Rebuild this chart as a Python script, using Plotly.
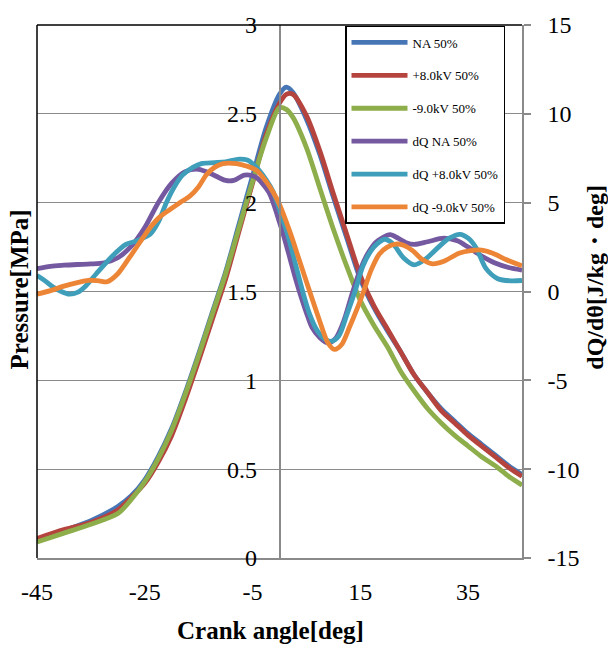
import plotly.graph_objects as go

# ---- crank angle grid for the pressure traces [deg] ----
angle_p = [-45, -40, -35, -30, -27.5, -25, -22.5, -20, -17.5, -15, -12.5, -10, -7.5, -5,
           -2.5, 0, 1.25, 2.5, 5, 7.5, 10, 12.5, 15, 17.5, 20, 22.5, 25, 27.5, 30, 32.5,
           35, 37.5, 40, 42.5, 45]

# ---- in-cylinder pressure [MPa] ----
p_na = [0.10, 0.155, 0.21, 0.29, 0.35, 0.44, 0.57, 0.73, 0.93, 1.15, 1.38, 1.61, 1.88, 2.15,
        2.42, 2.61, 2.65, 2.62, 2.47, 2.27, 2.03, 1.80, 1.57, 1.41, 1.28, 1.16, 1.03, 0.93,
        0.84, 0.77, 0.70, 0.64, 0.58, 0.52, 0.47]
p_pos8 = [0.11, 0.16, 0.20, 0.27, 0.34, 0.42, 0.54, 0.69, 0.89, 1.11, 1.34, 1.57, 1.84, 2.11,
          2.38, 2.56, 2.61, 2.61, 2.49, 2.29, 2.05, 1.82, 1.59, 1.42, 1.29, 1.16, 1.03, 0.93,
          0.83, 0.76, 0.69, 0.63, 0.57, 0.51, 0.46]
p_neg9 = [0.09, 0.14, 0.19, 0.25, 0.33, 0.43, 0.56, 0.72, 0.92, 1.14, 1.37, 1.60, 1.86, 2.12,
          2.36, 2.535, 2.525, 2.48, 2.31, 2.08, 1.85, 1.64, 1.45, 1.31, 1.19, 1.05, 0.94, 0.84,
          0.76, 0.69, 0.63, 0.57, 0.52, 0.46, 0.41]

# ---- heat release rate dQ/dtheta [J/kg deg] ----
angle_dq_na = [-45, -42.5, -40, -37.5, -35, -32.5, -30, -27.5, -25, -22.5, -20, -17.5, -15,
               -12.5, -10, -8.5, -6.5, -4.5, -2, 0, 1, 2, 3, 4, 5, 6, 7.5, 9, 10.5, 12, 13.5,
               15, 16.5, 18, 20.5, 22, 23.5, 25, 27.5, 30.5, 33, 35, 37.5, 40, 42.5, 45]
dq_na = [1.28, 1.42, 1.48, 1.52, 1.55, 1.62, 1.9, 2.55, 3.6, 5.0, 6.1, 6.75, 6.88,
         6.6, 6.25, 6.25, 6.55, 6.45, 5.6, 3.9, 2.9, 1.8, 0.7, -0.3, -1.2, -2.0, -2.6, -2.9,
         -2.6, -1.6, -0.1, 1.25, 2.2, 2.8, 3.2, 3.0, 2.75, 2.65, 2.8, 3.0, 2.85, 2.5, 2.0,
         1.6, 1.35, 1.2]

angle_dq_pos8 = [-45, -43.5, -42, -40.5, -39, -37.5, -36, -34, -31, -28.5, -26.5, -24, -22.5,
                 -21, -19.5, -18, -16, -14.5, -12, -10, -7.5, -6, -4.3, -2.5, -1.2, 0, 1.5, 3,
                 4.3, 5.5, 7, 8.5, 9.6, 11, 12.5, 14, 15.5, 17, 18, 19.5, 21, 23, 25, 27, 29.5,
                 31.5, 33.5, 35, 36.5, 38.3, 40.5, 43, 45]
dq_pos8 = [0.9, 0.6, 0.25, 0.0, -0.15, -0.05, 0.3, 1.0, 2.0, 2.65, 2.85, 3.22, 3.9,
           5.0, 5.9, 6.55, 7.0, 7.2, 7.25, 7.3, 7.45, 7.4, 7.0, 6.3, 5.63, 4.6, 3.22, 1.5,
           0.0, -1.2, -2.2, -2.7, -2.8, -2.5, -1.3, 0.0, 1.45, 2.3, 2.65, 2.94, 2.7, 1.9, 1.5,
           1.8, 2.5, 3.0, 3.22, 3.0, 2.45, 1.3, 0.72, 0.6, 0.62]

angle_dq_neg9 = [-45, -42.5, -40, -37.5, -35.5, -33.5, -32, -30, -27.8, -25.3, -24, -22.2,
                 -20.4, -18.5, -16.7, -15, -13.6, -12, -10.5, -8, -6, -4.3, -2.5, -1.2, 0, 2,
                 3.7, 5.6, 7.5, 9, 10.2, 11.5, 13, 14.5, 15.6, 17, 18.5, 20, 21.6, 23, 24.7,
                 26.5, 28.4, 30.5, 33.3, 35.5, 37.5, 40, 42, 45]
dq_neg9 = [-0.15, 0.05, 0.3, 0.5, 0.63, 0.6, 0.55, 1.0, 1.93, 3.04, 3.6, 4.2,
           4.6, 5.0, 5.35, 5.9, 6.56, 7.0, 7.2, 7.2, 7.05, 6.83, 6.2, 5.6, 4.9, 3.3,
           1.74, 0.0, -1.7, -2.9, -3.26, -3.0, -2.0, -0.9, 0.0, 1.2, 2.1, 2.5, 2.67, 2.6, 2.3,
           1.8, 1.56, 1.7, 2.15, 2.3, 2.33, 2.1, 1.8, 1.45]

# ---- axis ticks ----
x_ticks = [-45, -25, -5, 15, 35]
p_ticks = [0, 0.5, 1, 1.5, 2, 2.5, 3]
dq_ticks = [-15, -10, -5, 0, 5, 10, 15]

SERIF = "Liberation Serif"
GRID = "#8a8a8a"
LW = 4.8
TICK_SIZE = 24


def label(v):
    return f"{v:g}".replace("\u2212", "-")


pressure_series = [
    ("NA 50%", p_na, "#4676B6"),
    ("+8.0kV 50%", p_pos8, "#B5443F"),
    ("-9.0kV 50%", p_neg9, "#8DAE4B"),
]
dq_series = [
    ("dQ NA 50%", angle_dq_na, dq_na, "#7458A0"),
    ("dQ +8.0kV 50%", angle_dq_pos8, dq_pos8, "#3F9EB9"),
    ("dQ -9.0kV 50%", angle_dq_neg9, dq_neg9, "#EC8536"),
]

fig = go.Figure()
for name, vals, col in pressure_series:
    fig.add_trace(go.Scatter(
        x=angle_p, y=vals, name=name, mode="lines", yaxis="y", legendgroup=name,
        line=dict(color=col, width=LW, shape="spline", smoothing=0.8),
    ))
for name, ang, vals, col in dq_series:
    fig.add_trace(go.Scatter(
        x=ang, y=vals, name=name, mode="lines", yaxis="y2", legendgroup=name,
        line=dict(color=col, width=LW, shape="spline", smoothing=0.8),
    ))

fig.update_layout(
    width=608, height=648,
    margin=dict(l=37, r=86, t=18, b=90),
    paper_bgcolor="white", plot_bgcolor="white",
    font=dict(family=SERIF, color="black"),
    showlegend=True,
    xaxis=dict(
        range=[-45, 45], tickvals=x_ticks, ticktext=[label(v) for v in x_ticks],
        showgrid=False, zeroline=False, showline=True, linecolor=GRID, linewidth=1.5,
        ticks="", tickfont=dict(size=TICK_SIZE, family=SERIF), ticklabelstandoff=11,
    ),
    yaxis=dict(
        range=[0, 3], tickvals=p_ticks, ticktext=[label(v) for v in p_ticks],
        anchor="free", position=0.5,
        showgrid=True, gridcolor=GRID, gridwidth=1.3, zeroline=False,
        showline=True, linecolor=GRID, linewidth=1.5,
        ticks="", tickfont=dict(size=TICK_SIZE, family=SERIF), ticklabelstandoff=17,
    ),
    yaxis2=dict(
        range=[-15, 15], tickvals=dq_ticks, ticktext=[label(v) for v in dq_ticks],
        overlaying="y", side="right", anchor="x",
        showgrid=False, zeroline=False, showline=True, linecolor=GRID, linewidth=1.5,
        ticks="outside", ticklen=7, tickwidth=1.5, tickcolor=GRID,
        tickfont=dict(size=TICK_SIZE, family=SERIF), ticklabelstandoff=12,
    ),
    legend=dict(
        x=(345 - 37) / 485, y=(558 - 19) / 540, xanchor="left", yanchor="top",
        bgcolor="white", bordercolor="black", borderwidth=1.5,
        font=dict(size=13, family=SERIF, color="black"),
        traceorder="grouped", tracegroupgap=13, itemwidth=56,
    ),
    shapes=[
        dict(type="line", xref="paper", yref="paper", x0=0, x1=0, y0=0, y1=1,
             line=dict(color="black", width=1.5)),
        dict(type="line", xref="paper", yref="paper", x0=0, x1=1, y0=1, y1=1,
             line=dict(color="black", width=1.5)),
    ],
    annotations=[
        dict(text="<b>Crank angle[deg]</b>", xref="paper", yref="paper",
             x=(270 - 37) / 485, y=(558 - 631) / 540, xanchor="center", yanchor="middle",
             showarrow=False, font=dict(size=25, family=SERIF)),
        dict(text="<b>Pressure[MPa]</b>", xref="paper", yref="paper",
             x=(20 - 37) / 485, y=(558 - 286) / 540, xanchor="center", yanchor="middle",
             textangle=-90, showarrow=False, font=dict(size=25, family=SERIF)),
        dict(text="<b>dQ/dθ[J/kg・deg]</b>", xref="paper", yref="paper",
             x=(595 - 37) / 485, y=(558 - 274) / 540, xanchor="center", yanchor="middle",
             textangle=-90, showarrow=False, font=dict(size=24, family=SERIF)),
    ],
)

fig.write_html("out.html")
